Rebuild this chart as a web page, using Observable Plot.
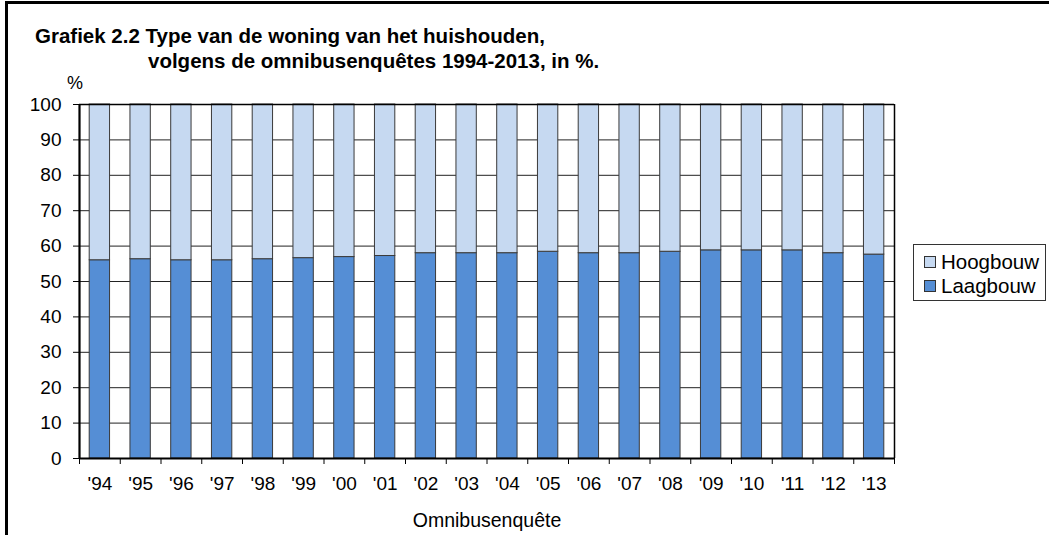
<!DOCTYPE html>
<html>
<head>
<meta charset="utf-8">
<script src="https://cdn.jsdelivr.net/npm/d3@7"></script>
<script src="https://cdn.jsdelivr.net/npm/@observablehq/plot@0.6"></script>
<style>
  html, body { margin: 0; padding: 0; background: #fff; overflow: hidden; width: 1049px; height: 535px; }
  body { position: relative; font-family: "Liberation Sans", Arial, sans-serif; }
  #frameLeft { position: absolute; left: 5px; top: 1px; width: 3px; height: 534px; background: #000; }
  #frameTop { position: absolute; left: 5px; top: 1px; width: 1044px; height: 3px; background: #000; }
  .title { position: absolute; font-weight: bold; font-size: 20.5px; color: #000; white-space: nowrap; }
  #chart { position: absolute; left: 0; top: 75px; width: 1049px; height: 460px; }
  #chart svg { display: block; }
  #pct { position: absolute; left: 67px; top: 73px; font-size: 18px; }
  #legend { position: absolute; left: 913px; top: 244px; width: 133px; height: 57px; border: 1px solid #333; box-sizing: border-box; background: #fff; }
  .item { position: absolute; left: 10px; display: flex; align-items: center; font-size: 20.5px; }
  .sw { width: 10px; height: 10px; border: 1px solid #333; margin-right: 5px; }
</style>
</head>
<body>
<div id="frameLeft"></div>
<div id="frameTop"></div>
<div class="title" style="left:35px; top:24px;">Grafiek 2.2 Type van de woning van het huishouden,</div>
<div class="title" style="left:148px; top:49px;">volgens de omnibusenquêtes 1994-2013, in %.</div>
<div id="pct">%</div>
<div id="chart"></div>
<div id="legend"></div>
<script>
const years = ["'94","'95","'96","'97","'98","'99","'00","'01","'02","'03","'04","'05","'06","'07","'08","'09","'10","'11","'12","'13"];
const laagbouw = [56.0, 56.3, 56.0, 56.0, 56.3, 56.6, 56.9, 57.2, 58.0, 58.0, 58.0, 58.4, 58.0, 58.0, 58.4, 58.8, 58.8, 58.8, 58.0, 57.6];
const hoogbouw = [44.0, 43.7, 44.0, 44.0, 43.7, 43.4, 43.1, 42.8, 42.0, 42.0, 42.0, 41.6, 42.0, 42.0, 41.6, 41.2, 41.2, 41.2, 42.0, 42.4];
const seriesNames = ["Hoogbouw", "Laagbouw"];
const seriesColors = ["#C6D9F1", "#558ED5"];
const yTicks = [0, 10, 20, 30, 40, 50, 60, 70, 80, 90, 100];
const xAxisLabel = "Omnibusenquête";

const rows = [];
years.forEach((yr, i) => {
  rows.push({i, year: yr, series: "Laagbouw", y1: 0, y2: laagbouw[i]});
  rows.push({i, year: yr, series: "Hoogbouw", y1: laagbouw[i], y2: laagbouw[i] + hoogbouw[i]});
});
const bounds = d3.range(years.length + 1);
const centers = years.map((_, i) => i + 0.5);

const chart = Plot.plot({
  width: 1049,
  height: 460,
  marginLeft: 79,
  marginRight: 155,
  marginTop: 29,
  marginBottom: 77,
  style: {fontFamily: "'Liberation Sans', Arial, sans-serif", fontSize: "18px", color: "#000", background: "transparent"},
  x: {type: "linear", domain: [0, years.length]},
  y: {domain: [0, 100]},
  color: {domain: seriesNames, range: seriesColors},
  marks: [
    Plot.ruleY(yTicks.slice(1, -1), {stroke: "#222", strokeWidth: 1}),
    Plot.rectY(rows, {x1: "i", x2: d => d.i + 1, y1: "y1", y2: "y2", fill: "series", stroke: "#3a3a3a", strokeWidth: 1, insetLeft: 10.2, insetRight: 10.2}),
    Plot.ruleY([100], {stroke: "#000", strokeWidth: 1.5}),
    Plot.ruleX([years.length], {stroke: "#000", strokeWidth: 1.5}),
    Plot.ruleX([0], {stroke: "#000", strokeWidth: 2.2}),
    Plot.ruleY([0], {stroke: "#000", strokeWidth: 2.2}),
    Plot.axisY({ticks: yTicks, tickSize: 6, tickPadding: 12, label: null, fontSize: 19}),
    Plot.axisX({ticks: bounds, tickSize: 6, tickFormat: () => "", label: null}),
    Plot.axisX({ticks: centers, tickSize: 0, tickPadding: 18, tickFormat: (d) => years[Math.floor(d)], label: null, fontSize: 19}),
    Plot.axisX({ticks: [], label: xAxisLabel, labelAnchor: "center", labelArrow: "none", labelOffset: 68, fontSize: 19.5})
  ]
});
document.getElementById("chart").appendChild(chart);

const legend = document.getElementById("legend");
seriesNames.forEach((name, k) => {
  const item = document.createElement("div");
  item.className = "item";
  item.style.top = (5 + k * 24) + "px";
  const sw = document.createElement("div");
  sw.className = "sw";
  sw.style.background = seriesColors[k];
  const t = document.createElement("span");
  t.textContent = name;
  item.appendChild(sw);
  item.appendChild(t);
  legend.appendChild(item);
});
</script>
</body>
</html>
